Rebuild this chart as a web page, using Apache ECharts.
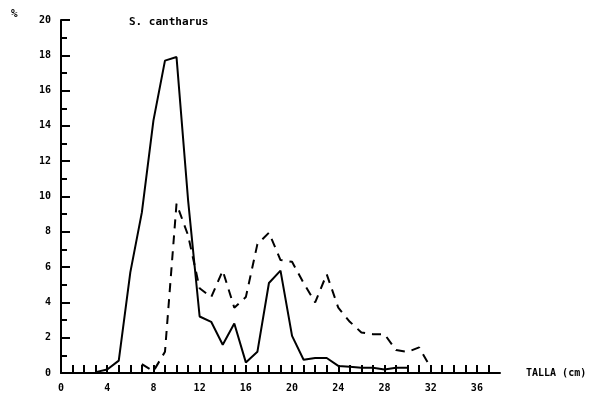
<!DOCTYPE html>
<html><head><meta charset="utf-8">
<script src="https://cdn.jsdelivr.net/npm/echarts@6/dist/echarts.min.js"></script>
<style>html,body{margin:0;padding:0;background:#fff}#c{width:600px;height:400px}</style>
</head><body><div id="c"></div>
<script>
// Size classes (cm) and percentages
var sizesSolid = [3,4,5,6,7,8,9,10,11,12,13,14,15,16,17,18,19,20,21,22,23,24,25,26,27,28,29,30];
var pctSolid   = [0.05,0.2,0.7,5.7,9.1,14.3,17.7,17.9,9.8,3.2,2.9,1.6,2.8,0.6,1.2,5.1,5.8,2.1,0.75,0.85,0.85,0.4,0.35,0.3,0.3,0.2,0.3,0.3];
var sizesDashed = [7,8,9,10,11,12,13,14,15,16,17,18,19,20,21,22,23,24,25,26,27,28,29,30,31,32];
var pctDashed   = [0.5,0.1,1.2,9.6,7.8,4.8,4.3,5.8,3.7,4.3,7.3,7.95,6.4,6.3,5.1,4.0,5.6,3.7,2.9,2.3,2.2,2.2,1.3,1.2,1.45,0.3];
var xTickLabels = [0,4,8,12,16,20,24,28,32,36];
var yTickLabels = [0,2,4,6,8,10,12,14,16,18,20];
var titleText = 'S. cantharus';
var xName = 'TALLA (cm)';
var yName = '%';

function pairs(xs, ys){ return xs.map(function(x,i){ return [x, ys[i]]; }); }
var font = 'DejaVu Sans Mono';
var chart = echarts.init(document.getElementById('c'), null, {renderer:'canvas'});
chart.setOption({
  animation:false,
  backgroundColor:'#fff',
  title:{text:titleText, left:124, top:12, textStyle:{fontFamily:font, fontSize:11, fontWeight:'bold', color:'#000'}},
  grid:{left:61, top:20, width:439, height:353},
  xAxis:{type:'value', min:0, max:38, interval:1,
    name:xName, nameLocation:'end', nameGap:26,
    nameTextStyle:{fontFamily:font, fontSize:10, fontWeight:'bold', color:'#000', verticalAlign:'middle'},
    axisLine:{lineStyle:{color:'#000', width:2}},
    axisTick:{inside:true, length:8, lineStyle:{color:'#000', width:2}},
    splitLine:{show:false},
    axisLabel:{margin:10, fontFamily:font, fontSize:10, fontWeight:'bold', color:'#000',
      showMaxLabel:false,
      formatter:function(v){ return xTickLabels.indexOf(v) >= 0 ? String(v) : ''; }}
  },
  yAxis:{type:'value', min:0, max:20, interval:2,
    name:yName, nameLocation:'end', nameGap:0,
    nameTextStyle:{fontFamily:font, fontSize:11, fontWeight:'bold', color:'#000', align:'left', padding:[0,0,0,-50]},
    axisLine:{show:true, lineStyle:{color:'#000', width:2}},
    axisTick:{show:true, inside:true, length:9, lineStyle:{color:'#000', width:2}},
    minorTick:{show:true, splitNumber:2, length:6, lineStyle:{color:'#000', width:2}},
    splitLine:{show:false},
    axisLabel:{margin:10, fontFamily:font, fontSize:10, fontWeight:'bold', color:'#000',
      formatter:function(v){ return yTickLabels.indexOf(v) >= 0 ? String(v) : ''; }}
  },
  series:[
    {type:'line', data:pairs(sizesSolid, pctSolid), symbol:'none',
      lineStyle:{color:'#000', width:2, type:'solid'}},
    {type:'line', data:pairs(sizesDashed, pctDashed), symbol:'none',
      lineStyle:{color:'#000', width:2, type:[9,7]}}
  ]
});
</script>
</body></html>
